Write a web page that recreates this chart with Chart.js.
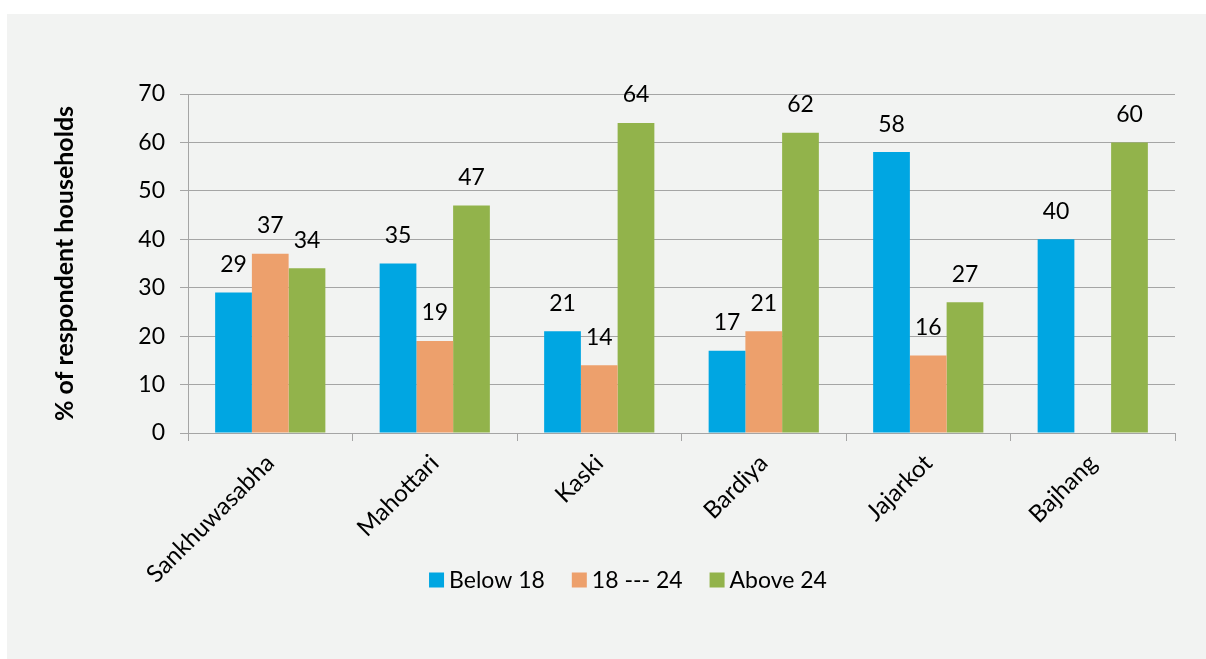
<!DOCTYPE html>
<html>
<head>
<meta charset="utf-8">
<script src="https://cdn.jsdelivr.net/npm/chart.js@4"></script>
<style>
    html, body { margin: 0; padding: 0; background: #ffffff; }
    #panel {
        position: absolute;
        left: 7px;
        top: 14px;
        width: 1199px;
        height: 645px;
        background: #f2f3f2;
    }
</style>
</head>
<body>
<div id="panel">
    <canvas id="ageChart" width="1199" height="645"></canvas>
</div>
<script>
// districts surveyed and share of households per age group
const districts = ["Sankhuwasabha", "Mahottari", "Kaski", "Bardiya", "Jajarkot", "Bajhang"];
const below18 = [29, 35, 21, 17, 58, 40];
const from18to24 = [37, 19, 14, 21, 16, null];
const above24 = [34, 47, 64, 62, 27, 60];
const seriesNames = ["Below 18", "18 --- 24", "Above 24"];
const seriesColors = ["#00a6e2", "#eda06c", "#92b34b"];

const FONT = "Lato";
const FONT_SIZE = 23;
Chart.defaults.font.family = FONT;
Chart.defaults.color = "#000";

// value labels sitting above each bar
const barValues = {
    id: "barValues",
    afterDatasetsDraw(chart) {
        const ctx = chart.ctx;
        ctx.save();
        ctx.font = FONT_SIZE + "px " + FONT;
        ctx.fillStyle = "#000";
        ctx.textAlign = "center";
        ctx.textBaseline = "middle";
        chart.data.datasets.forEach((ds, i) => {
            chart.getDatasetMeta(i).data.forEach((bar, j) => {
                const v = ds.data[j];
                if (v === null || v === undefined) return;
                ctx.fillText(String(v), bar.x, bar.y - 28);
            });
        });
        ctx.restore();
    }
};

// legend row under the rotated district names
const bottomLegend = {
    id: "bottomLegend",
    afterDraw(chart) {
        const ctx = chart.ctx;
        const box = 15, gap = 5, spacing = 27;
        const cy = 566;
        ctx.save();
        ctx.font = FONT_SIZE + "px " + FONT;
        ctx.textBaseline = "middle";
        const widths = chart.data.datasets.map(ds => box + gap + ctx.measureText(ds.label).width);
        const total = widths.reduce((a, b) => a + b, 0) + spacing * (widths.length - 1);
        let x = 621 - total / 2;
        chart.data.datasets.forEach((ds, i) => {
            ctx.fillStyle = ds.backgroundColor;
            ctx.fillRect(x, cy - box / 2, box, box);
            ctx.fillStyle = "#000";
            ctx.fillText(ds.label, x + box + gap, cy + 1);
            x += widths[i] + spacing;
        });
        ctx.restore();
    }
};

const gridColor = "#a5a5a5";

new Chart(document.getElementById("ageChart"), {
    type: "bar",
    data: {
        labels: districts,
        datasets: seriesNames.map((name, i) => ({
            label: name,
            data: [below18, from18to24, above24][i],
            backgroundColor: seriesColors[i]
        }))
    },
    options: {
        responsive: false,
        animation: false,
        categoryPercentage: 0.67,
        barPercentage: 1.0,
        layout: {
            padding: { top: 80, right: 31, bottom: 0, left: 0 }
        },
        scales: {
            y: {
                min: 0,
                max: 70,
                ticks: { stepSize: 10, padding: 15, font: { size: FONT_SIZE }, color: "#000" },
                grid: { color: gridColor, lineWidth: 1, tickLength: 8 },
                border: { color: gridColor },
                title: {
                    display: true,
                    text: "% of respondent households",
                    font: { size: 25, weight: "bold" },
                    color: "#000",
                    padding: { top: 43, bottom: 0 }
                },
                afterFit(scale) { scale.width = 181; }
            },
            x: {
                ticks: { minRotation: 45, maxRotation: 45, padding: 8, font: { size: 24 }, color: "#000" },
                grid: { drawOnChartArea: false, drawTicks: true, tickLength: 8, color: gridColor, offset: true },
                border: { color: gridColor },
                afterFit(scale) { scale.height = 226; }
            }
        },
        plugins: {
            legend: { display: false },
            tooltip: { enabled: false }
        }
    },
    plugins: [barValues, bottomLegend]
});
</script>
</body>
</html>
